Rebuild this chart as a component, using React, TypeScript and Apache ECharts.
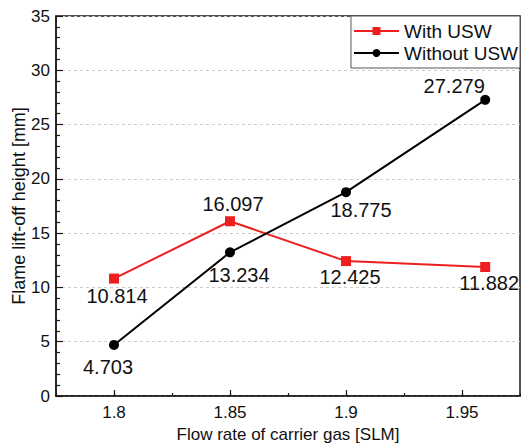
import React, { useEffect, useRef } from "react";
import * as echarts from "echarts";

const flowRates = [1.8, 1.85, 1.9, 1.96];
const withUSW = [10.814, 16.097, 12.425, 11.882];
const withoutUSW = [4.703, 13.234, 18.775, 27.279];
const xTickValues = [1.8, 1.85, 1.9, 1.95];
const seriesNames = ["With USW", "Without USW"];

// label offsets (style only)
const withOffsets = [[3, 17], [3, -17], [4, 16], [4, 16]];
const withoutOffsets = [[-6, 22], [9, 23], [15, 18], [-31, -14]];

const FONT = "'Liberation Sans', Arial, sans-serif";

export default function App() {
  const ref = useRef<HTMLDivElement>(null);
  useEffect(() => {
    if (!ref.current) return;
    const chart = echarts.init(ref.current, undefined, { renderer: "svg" });
    const mk = (vals: number[], offs: number[][]) =>
      vals.map((v, i) => ({
        value: [flowRates[i], v],
        label: { offset: offs[i] },
      }));
    chart.setOption({
      animation: false,
      backgroundColor: "#fff",
      textStyle: { fontFamily: FONT },
      grid: {
        left: 56,
        right: 1,
        top: 16,
        bottom: 50,
        show: true,
        borderColor: "#1a1a1a",
        borderWidth: 1.5,
        containLabel: false,
        outerBoundsMode: "none",
      },
      legend: {
        orient: "vertical",
        right: 1,
        top: 16,
        data: seriesNames,
        itemWidth: 45,
        itemHeight: 10,
        itemGap: 2,
        padding: [5, 2, 5, 2],
        borderColor: "#555",
        borderWidth: 1,
        backgroundColor: "#fff",
        textStyle: { fontSize: 19, color: "#111", fontFamily: FONT, lineHeight: 20 },
      },
      xAxis: [
        {
          type: "value",
          min: 1.775,
          max: 1.975,
          name: "Flow rate of carrier gas [SLM]",
          nameLocation: "middle",
          nameGap: 30,
          nameMoveOverlap: false,
          nameTextStyle: { fontSize: 17, color: "#111", fontFamily: FONT },
          axisLine: { show: true, lineStyle: { color: "#1a1a1a", width: 1.5 } },
          axisTick: {
            show: true,
            inside: true,
            length: 6,
            customValues: xTickValues,
            lineStyle: { color: "#1a1a1a", width: 1.2 },
          },
          axisLabel: {
            customValues: xTickValues,
            fontSize: 17,
            color: "#111",
            margin: 8,
            fontFamily: FONT,
          },
          splitLine: { show: false },
        },
        {
          type: "value",
          min: 1.775,
          max: 1.975,
          interval: 0.025,
          position: "bottom",
          axisLine: { show: false },
          axisTick: { show: true, inside: true, length: 3, lineStyle: { color: "#1a1a1a", width: 1.2 } },
          axisLabel: { show: false },
          splitLine: { show: false },
        },
      ],
      yAxis: {
        type: "value",
        min: 0,
        max: 35,
        interval: 5,
        name: "Flame lift-off height [mm]",
        nameLocation: "middle",
        nameGap: 28,
        nameMoveOverlap: false,
        nameTextStyle: { fontSize: 18, color: "#111", fontFamily: FONT },
        axisLine: { show: true, lineStyle: { color: "#1a1a1a", width: 1.5 } },
        axisTick: { show: true, inside: true, length: 7, lineStyle: { color: "#1a1a1a", width: 1.2 } },
        minorTick: { show: true, splitNumber: 5, length: 4, lineStyle: { color: "#1a1a1a", width: 1.2 } },
        axisLabel: { fontSize: 17, color: "#111", margin: 6, fontFamily: FONT },
        splitLine: { show: true, lineStyle: { color: "#cccccc", type: [3, 3], width: 1 } },
      },
      series: [
        {
          name: seriesNames[0],
          type: "line",
          xAxisIndex: 0,
          data: mk(withUSW, withOffsets),
          symbol: "rect",
          symbolSize: 10,
          itemStyle: { color: "#ee1f1f" },
          lineStyle: { color: "#ee1f1f", width: 2 },
          label: {
            show: true,
            position: "inside",
            fontSize: 20,
            color: "#111",
            fontFamily: FONT,
            formatter: (p: any) => String(p.value[1]),
          },
          z: 3,
        },
        {
          name: seriesNames[1],
          type: "line",
          xAxisIndex: 0,
          data: mk(withoutUSW, withoutOffsets),
          symbol: "circle",
          symbolSize: 10,
          itemStyle: { color: "#000" },
          lineStyle: { color: "#000", width: 2 },
          label: {
            show: true,
            position: "inside",
            fontSize: 20,
            color: "#111",
            fontFamily: FONT,
            formatter: (p: any) => String(p.value[1]),
          },
          z: 4,
        },
      ],
    });
    return () => chart.dispose();
  }, []);
  return (
    <div
      ref={ref}
      style={{ position: "absolute", left: 0, top: 0, width: 521, height: 446 }}
    />
  );
}
